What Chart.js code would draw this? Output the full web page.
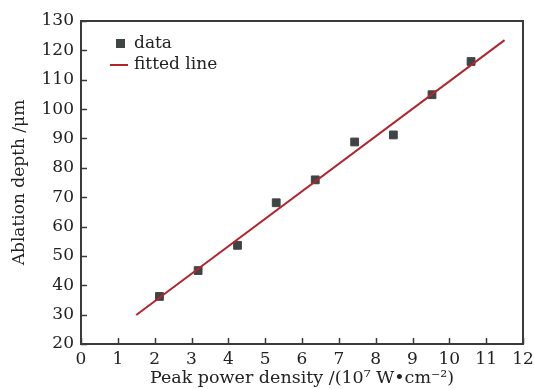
<!DOCTYPE html>
<html lang="en">
<head>
    <meta charset="UTF-8">
    <title>Ablation depth vs peak power density</title>
    <style>
        body { margin: 0; background: #fff; }
        #wrap { width: 534px; height: 389px; }
    </style>
    <script src="https://cdn.jsdelivr.net/npm/chart.js"></script>
</head>
<body>
    <div id="wrap"><canvas id="chart"></canvas></div>
    <script>
        // measured points
        const powerDensity = [2.13, 3.18, 4.25, 5.30, 6.36, 7.43, 8.48, 9.53, 10.59];
        const ablationDepth = [36.2, 45.0, 53.6, 68.1, 75.9, 88.8, 91.2, 104.9, 116.2];
        // fitted line end points
        const fitX = [1.5, 11.5];
        const fitY = [29.9, 123.5];

        const axisColor = '#3a3a3a';
        const markColor = '#3f4444';
        const lineColor = '#b0262c';
        const serif = "'DejaVu Serif', serif";

        // inward ticks, top/right frame and the in-plot legend
        const framePlugin = {
            id: 'frame',
            afterDraw(chart) {
                const c = chart.ctx;
                const a = chart.chartArea;
                const xs = chart.scales.x, ys = chart.scales.y;
                c.save();
                c.strokeStyle = axisColor;
                c.lineWidth = 1.5;
                c.beginPath();
                xs.ticks.forEach(t => {
                    const px = Math.round(xs.getPixelForValue(t.value)) + 0.5;
                    c.moveTo(px, a.bottom); c.lineTo(px, a.bottom - 6);
                });
                ys.ticks.forEach(t => {
                    const py = Math.round(ys.getPixelForValue(t.value)) + 0.5;
                    c.moveTo(a.left, py); c.lineTo(a.left + 6, py);
                });
                c.stroke();
                c.lineWidth = 2;
                c.beginPath();
                c.moveTo(a.left, a.top); c.lineTo(a.right, a.top); c.lineTo(a.right, a.bottom);
                c.stroke();

                // legend
                c.fillStyle = markColor;
                c.fillRect(a.left + 35, a.top + 18, 9, 9);
                c.strokeStyle = lineColor;
                c.lineWidth = 2;
                c.beginPath();
                c.moveTo(a.left + 29, a.top + 44); c.lineTo(a.left + 47, a.top + 44);
                c.stroke();
                c.fillStyle = '#222';
                c.font = '17px ' + serif;
                c.textBaseline = 'middle';
                c.fillText('data', a.left + 53, a.top + 23);
                c.fillText('fitted line', a.left + 53, a.top + 44);
                c.restore();
            }
        };

        const ctx = document.getElementById('chart').getContext('2d');
        new Chart(ctx, {
            type: 'scatter',
            data: {
                datasets: [
                    {
                        label: 'data',
                        data: powerDensity.map((x, i) => ({ x: x, y: ablationDepth[i] })),
                        pointStyle: 'rect',
                        pointRadius: 5.5,
                        backgroundColor: markColor,
                        borderColor: markColor,
                        borderWidth: 1,
                        order: 2
                    },
                    {
                        label: 'fitted line',
                        type: 'line',
                        data: fitX.map((x, i) => ({ x: x, y: fitY[i] })),
                        borderColor: lineColor,
                        borderWidth: 2,
                        pointRadius: 0,
                        fill: false,
                        order: 1
                    }
                ]
            },
            options: {
                responsive: true,
                maintainAspectRatio: false,
                animation: false,
                layout: { padding: { top: 21, right: 11, left: 0, bottom: 0 } },
                plugins: {
                    legend: { display: false },
                    tooltip: { enabled: false }
                },
                scales: {
                    x: {
                        type: 'linear',
                        min: 0,
                        max: 12,
                        afterFit: s => { s.height = 45; s.paddingLeft = 0; s.paddingRight = 0; },
                        grid: { display: false, drawTicks: false },
                        border: { color: axisColor, width: 2 },
                        ticks: {
                            stepSize: 1,
                            padding: 5,
                            color: '#222',
                            maxRotation: 0,
                            font: { family: serif, size: 17 }
                        },
                        title: {
                            display: true,
                            text: 'Peak power density /(10\u2077 W\u2022cm\u207B\u00B2)',
                            color: '#222',
                            padding: 0,
                            font: { family: serif, size: 17.5 }
                        }
                    },
                    y: {
                        min: 20,
                        max: 130,
                        afterFit: s => { s.width = 81; s.paddingTop = 0; s.paddingBottom = 0; },
                        grid: { display: false, drawTicks: false },
                        border: { color: axisColor, width: 2 },
                        ticks: {
                            stepSize: 10,
                            padding: 7,
                            color: '#222',
                            font: { family: serif, size: 17 }
                        },
                        title: {
                            display: true,
                            text: 'Ablation depth /\u03BCm',
                            color: '#222',
                            padding: { top: 9, bottom: 0 },
                            font: { family: serif, size: 17 }
                        }
                    }
                }
            },
            plugins: [framePlugin]
        });
    </script>
</body>
</html>
